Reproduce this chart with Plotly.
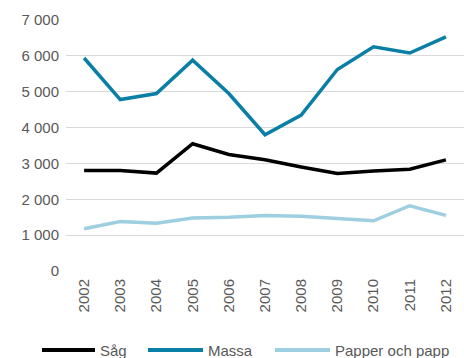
import plotly.graph_objects as go

years = ["2002", "2003", "2004", "2005", "2006", "2007", "2008", "2009", "2010", "2011", "2012"]
sag = [2800, 2800, 2730, 3550, 3250, 3100, 2900, 2720, 2790, 2840, 3100]
massa = [5940, 4780, 4950, 5880, 4950, 3800, 4350, 5620, 6250, 6080, 6530]
papper = [1180, 1380, 1330, 1480, 1500, 1550, 1530, 1470, 1400, 1820, 1550]

series = [
    ("Såg", sag, "#000000"),
    ("Massa", massa, "#0a7fa5"),
    ("Papper och papp", papper, "#9dcfe0"),
]

W, H = 464, 358
ML, MR, MT, MB = 66, 0, 20, 87
TEXT = "#595959"
FONT = "Liberation Sans, Arial, sans-serif"

fig = go.Figure()
for name, vals, color in series:
    fig.add_trace(go.Scatter(
        x=years, y=vals, name=name, mode="lines",
        line=dict(color=color, width=3.5), showlegend=False,
    ))

# Legend drawn below the plot: a long line sample followed by its label
plot_w = W - ML - MR
plot_h = H - MT - MB
def px_x(p):
    return (p - ML) / plot_w
def px_y(p):
    return (H - MB - p) / plot_h

legend_y = 350
legend_items = [(42, 95, 98), (148, 203, 206), (275, 330, 333)]
for (name, _, color), (x0, x1, xt) in zip(series, legend_items):
    fig.add_shape(type="line", xref="paper", yref="paper",
                  x0=px_x(x0), x1=px_x(x1), y0=px_y(legend_y), y1=px_y(legend_y),
                  line=dict(color=color, width=4))
    fig.add_annotation(xref="paper", yref="paper", x=px_x(xt), y=px_y(legend_y),
                       text=name, showarrow=False, xanchor="left", yanchor="middle",
                       font=dict(family=FONT, size=15, color=TEXT))

fig.update_layout(
    width=W, height=H,
    margin=dict(l=ML, r=MR, t=MT, b=MB),
    paper_bgcolor="white", plot_bgcolor="white",
    font=dict(family=FONT, size=15, color=TEXT),
    showlegend=False,
    xaxis=dict(
        type="category", range=[-0.5, 10.5], tickangle=-90,
        showgrid=False, showline=False, ticks="", zeroline=False,
        ticklabelstandoff=4,
        tickfont=dict(size=15, color=TEXT),
    ),
    yaxis=dict(
        range=[0, 7000], dtick=1000, tickformat=",d",
        showgrid=True, gridcolor="#d9d9d9", gridwidth=1.3,
        zeroline=False, showline=False, ticks="",
        ticklabelstandoff=6,
        tickfont=dict(size=15, color=TEXT),
    ),
    separators=", ",
)

fig.write_html("out.html")
